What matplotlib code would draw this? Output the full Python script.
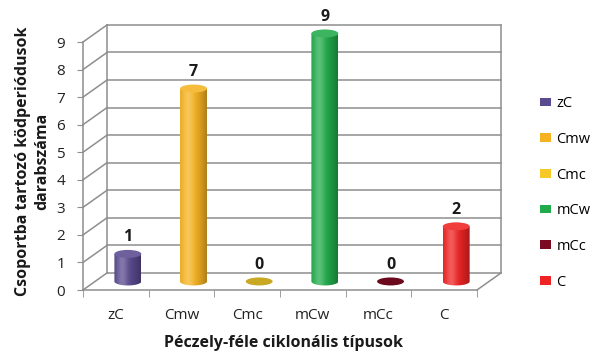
import matplotlib.pyplot as plt
import numpy as np
from matplotlib.patches import Ellipse, Patch, PathPatch
from matplotlib.path import Path
from matplotlib.colors import to_rgb

plt.rcParams["font.family"] = ["Open Sans", "DejaVu Sans"]

categories = ["zC", "Cmw", "Cmc", "mCw", "mCc", "C"]
counts = [1, 7, 0, 9, 0, 2]
colors = ["#5a4a8e", "#f5b322", "#f7c928", "#22ab4a", "#790a22", "#ee2424"]
zero_colors = {"Cmc": "#c9a824", "mCc": "#6a0a1c"}

y_ticks = list(range(10))
y_label = "Csoportba tartozó ködperiódusok\ndarabszáma"
x_label = "Péczely-féle ciklonális típusok"

# depth of the 3D box in data units (x in categories, y in counts)
depth_x = 0.366
depth_y = 0.62
bar_w = 0.41
cap_h = 0.29
grid_c = "#8e8e8e"
y_top = 9
y_room = 10  # axes run a little past the top tick so the caps are not clipped

fig = plt.figure(figsize=(5.94, 3.54), dpi=100)
unit_px = 248 / y_top
ax = fig.add_axes([83 / 594, 64 / 354, 394 / 594, unit_px * y_room / 354])
ax.set_xlim(-0.5, len(categories) - 0.5)
ax.set_ylim(0, y_room)

x_lo, x_hi = -0.5, len(categories) - 0.5

# walls: back gridlines, side wall diagonals, floor edges
for v in y_ticks:
    ax.plot([x_lo + depth_x, x_hi + depth_x], [v + depth_y, v + depth_y],
            color=grid_c, lw=1.1, clip_on=False, zorder=1)
    ax.plot([x_lo, x_lo + depth_x], [v, v + depth_y],
            color=grid_c, lw=1.1, clip_on=False, zorder=1)
ax.plot([x_lo + depth_x] * 2, [depth_y, y_top + depth_y], color=grid_c, lw=1.1,
        clip_on=False, zorder=1)
ax.plot([x_hi + depth_x] * 2, [depth_y, y_top + depth_y], color=grid_c, lw=1.1,
        clip_on=False, zorder=1)
ax.plot([x_hi, x_hi + depth_x], [0, depth_y], color=grid_c, lw=1.1,
        clip_on=False, zorder=1)


def shade(base, t):
    base = np.array(to_rgb(base))
    hl = 0.25 * np.exp(-((t - 0.3) / 0.2) ** 2)
    dk = 0.3 * ((t - 0.3) / 0.7) ** 2
    rgb = base[None, :] * (1 - dk[:, None]) * (1 - hl[:, None]) + hl[:, None]
    return np.clip(rgb, 0, 1)


t = np.linspace(0, 1, 64)
for i, (cat, val, col) in enumerate(zip(categories, counts, colors)):
    cx = i + depth_x / 2
    y0 = depth_y / 2
    y1 = y0 + val
    if val == 0:
        ax.add_patch(Ellipse((cx, y0), bar_w, cap_h, facecolor=zero_colors[cat],
                             edgecolor="none", zorder=3, clip_on=False))
    else:
        ang = np.linspace(np.pi, 2 * np.pi, 40)
        bx = cx + bar_w / 2 * np.cos(ang)
        by = y0 + cap_h / 2 * np.sin(ang)
        xs = np.concatenate([[cx - bar_w / 2], bx, [cx + bar_w / 2, cx - bar_w / 2]])
        ys = np.concatenate([[y1], by, [y1, y1]])
        body = PathPatch(Path(np.column_stack([xs, ys])), facecolor="none",
                         edgecolor="none", transform=ax.transData)
        ax.add_patch(body)
        img = shade(col, t)[None, :, :]
        im = ax.imshow(img, extent=[cx - bar_w / 2, cx + bar_w / 2,
                                    y0 - cap_h, y1], aspect="auto",
                       interpolation="bilinear", zorder=3)
        im.set_clip_path(body)
        top = np.array(to_rgb(col)) * 0.88 + 0.12
        ax.add_patch(Ellipse((cx, y1), bar_w, cap_h, facecolor=top,
                             edgecolor="none", zorder=4, clip_on=False))
    ax.text(cx, y1 + 0.6, str(val), ha="center", va="center",
            fontsize=11.5, fontweight="bold", color="#1a1a1a", clip_on=False)

ax.set_xlim(-0.5, len(categories) - 0.5)
ax.set_ylim(0, y_room)

for side in ["top", "right"]:
    ax.spines[side].set_visible(False)
for side in ["left", "bottom"]:
    ax.spines[side].set_color(grid_c)
    ax.spines[side].set_linewidth(1.1)
ax.spines["left"].set_bounds(0, y_top)

ax.set_yticks(y_ticks)
ax.tick_params(axis="y", length=4, color=grid_c, pad=9, labelsize=11,
               labelcolor="#222222")
ax.set_xticks(range(len(categories)))
ax.set_xticklabels(categories)
ax.set_xticks(np.arange(-0.5, len(categories)), minor=True)
ax.tick_params(axis="x", which="major", length=0, pad=13, labelsize=11,
               labelcolor="#222222")
ax.tick_params(axis="x", which="minor", length=5, color=grid_c)

fig.text(33 / 594, 1 - 161 / 354, y_label, rotation=90, ha="center",
         va="center", fontsize=11.5, fontweight="bold", color="#1a1a1a",
         linespacing=1.25)
fig.text(283 / 594, 1 - 343 / 354, x_label, ha="center", va="center",
         fontsize=11.5, fontweight="bold", color="#1a1a1a")

handles = [Patch(facecolor=c, edgecolor="none", label=n)
           for n, c in zip(categories, colors)]
fig.legend(handles=handles, loc="upper left", bbox_to_anchor=(0.9, 0.745),
           frameon=False, fontsize=10.5, handlelength=0.75, handleheight=0.55,
           handletextpad=0.35, labelspacing=1.42, borderaxespad=0)

fig.savefig("out.png", dpi=100)
